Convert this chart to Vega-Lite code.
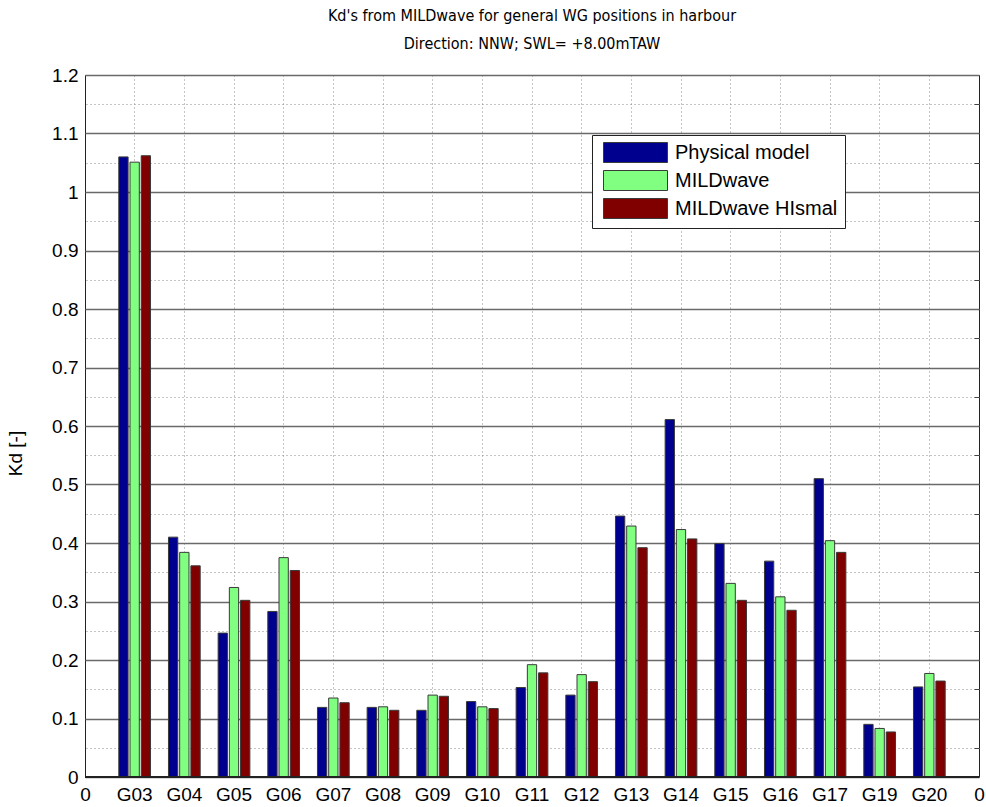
{
  "$schema": "https://vega.github.io/schema/vega-lite/v6.json",
  "width": 894,
  "height": 702,
  "autosize": {"type": "none"},
  "padding": {"left": 85, "top": 75, "right": 7, "bottom": 30},
  "background": "white",
  "title": {
    "text": ["Kd's from MILDwave for general WG positions in harbour", "Direction: NNW; SWL= +8.00mTAW"],
    "anchor": "middle",
    "frame": "group",
    "font": "Liberation Sans Narrow, DejaVu Sans Condensed, Liberation Sans, sans-serif",
    "fontSize": 16,
    "fontWeight": "normal",
    "color": "#000",
    "lineHeight": 28,
    "offset": 14
  },
  "config": {
    "view": {"stroke": "#222", "strokeWidth": 1},
    "axis": {
      "labelFont": "Liberation Sans",
      "labelFontSize": 19,
      "labelColor": "#000",
      "titleFont": "Liberation Sans",
      "titleFontSize": 19,
      "titleFontWeight": "normal",
      "titleColor": "#000",
      "domain": false
    },
    "legend": {
      "labelFont": "Liberation Sans",
      "labelFontSize": 20,
      "labelColor": "#000"
    }
  },
  "data": {
    "values": [
      {"gauge": "G03", "model": "Physical model", "kd": 1.060},
      {"gauge": "G03", "model": "MILDwave", "kd": 1.051},
      {"gauge": "G03", "model": "MILDwave HIsmal", "kd": 1.062},
      {"gauge": "G04", "model": "Physical model", "kd": 0.410},
      {"gauge": "G04", "model": "MILDwave", "kd": 0.384},
      {"gauge": "G04", "model": "MILDwave HIsmal", "kd": 0.361},
      {"gauge": "G05", "model": "Physical model", "kd": 0.246},
      {"gauge": "G05", "model": "MILDwave", "kd": 0.324},
      {"gauge": "G05", "model": "MILDwave HIsmal", "kd": 0.302},
      {"gauge": "G06", "model": "Physical model", "kd": 0.283},
      {"gauge": "G06", "model": "MILDwave", "kd": 0.375},
      {"gauge": "G06", "model": "MILDwave HIsmal", "kd": 0.353},
      {"gauge": "G07", "model": "Physical model", "kd": 0.119},
      {"gauge": "G07", "model": "MILDwave", "kd": 0.135},
      {"gauge": "G07", "model": "MILDwave HIsmal", "kd": 0.127},
      {"gauge": "G08", "model": "Physical model", "kd": 0.119},
      {"gauge": "G08", "model": "MILDwave", "kd": 0.120},
      {"gauge": "G08", "model": "MILDwave HIsmal", "kd": 0.114},
      {"gauge": "G09", "model": "Physical model", "kd": 0.114},
      {"gauge": "G09", "model": "MILDwave", "kd": 0.140},
      {"gauge": "G09", "model": "MILDwave HIsmal", "kd": 0.138},
      {"gauge": "G10", "model": "Physical model", "kd": 0.129},
      {"gauge": "G10", "model": "MILDwave", "kd": 0.120},
      {"gauge": "G10", "model": "MILDwave HIsmal", "kd": 0.117},
      {"gauge": "G11", "model": "Physical model", "kd": 0.153},
      {"gauge": "G11", "model": "MILDwave", "kd": 0.192},
      {"gauge": "G11", "model": "MILDwave HIsmal", "kd": 0.178},
      {"gauge": "G12", "model": "Physical model", "kd": 0.140},
      {"gauge": "G12", "model": "MILDwave", "kd": 0.175},
      {"gauge": "G12", "model": "MILDwave HIsmal", "kd": 0.163},
      {"gauge": "G13", "model": "Physical model", "kd": 0.446},
      {"gauge": "G13", "model": "MILDwave", "kd": 0.429},
      {"gauge": "G13", "model": "MILDwave HIsmal", "kd": 0.392},
      {"gauge": "G14", "model": "Physical model", "kd": 0.611},
      {"gauge": "G14", "model": "MILDwave", "kd": 0.423},
      {"gauge": "G14", "model": "MILDwave HIsmal", "kd": 0.407},
      {"gauge": "G15", "model": "Physical model", "kd": 0.399},
      {"gauge": "G15", "model": "MILDwave", "kd": 0.331},
      {"gauge": "G15", "model": "MILDwave HIsmal", "kd": 0.302},
      {"gauge": "G16", "model": "Physical model", "kd": 0.369},
      {"gauge": "G16", "model": "MILDwave", "kd": 0.308},
      {"gauge": "G16", "model": "MILDwave HIsmal", "kd": 0.285},
      {"gauge": "G17", "model": "Physical model", "kd": 0.510},
      {"gauge": "G17", "model": "MILDwave", "kd": 0.404},
      {"gauge": "G17", "model": "MILDwave HIsmal", "kd": 0.384},
      {"gauge": "G19", "model": "Physical model", "kd": 0.090},
      {"gauge": "G19", "model": "MILDwave", "kd": 0.083},
      {"gauge": "G19", "model": "MILDwave HIsmal", "kd": 0.077},
      {"gauge": "G20", "model": "Physical model", "kd": 0.154},
      {"gauge": "G20", "model": "MILDwave", "kd": 0.177},
      {"gauge": "G20", "model": "MILDwave HIsmal", "kd": 0.164}
    ]
  },
  "layer": [
    {
      "mark": {"type": "bar", "stroke": "#3a3a3a", "strokeWidth": 1},
      "encoding": {
        "x": {
          "field": "gauge",
          "type": "nominal",
          "sort": null,
          "scale": {"paddingInner": 0, "paddingOuter": 0.5},
          "axis": {
            "title": null,
            "orient": "bottom",
            "labelAngle": 0,
            "bandPosition": 0.5,
            "ticks": false,
            "labelPadding": 8,
            "grid": true,
            "gridColor": "#8a8a8a",
            "gridDash": [1, 3],
            "gridWidth": 1
          }
        },
        "xOffset": {
          "field": "model",
          "type": "nominal",
          "sort": ["Physical model", "MILDwave", "MILDwave HIsmal"],
          "scale": {"paddingInner": 0.17, "paddingOuter": 0.8}
        },
        "y": {
          "field": "kd",
          "type": "quantitative",
          "scale": {"domain": [0, 1.2], "nice": false},
          "axis": {
            "title": "Kd [-]",
            "orient": "left",
            "values": [0, 0.1, 0.2, 0.3, 0.4, 0.5, 0.6, 0.7, 0.8, 0.9, 1, 1.1, 1.2],
            "format": "~g",
            "ticks": false,
            "labelPadding": 7,
            "titlePadding": 26,
            "titleY": 378,
            "titleAlign": "center",
            "titleBaseline": "bottom",
            "grid": true,
            "gridColor": "#6a6a6a",
            "gridWidth": 1.5
          }
        },
        "color": {
          "field": "model",
          "type": "nominal",
          "sort": ["Physical model", "MILDwave", "MILDwave HIsmal"],
          "scale": {
            "domain": ["Physical model", "MILDwave", "MILDwave HIsmal"],
            "range": ["#00008f", "#80ff80", "#800000"]
          },
          "legend": {
            "title": null,
            "orient": "none",
            "legendX": 507,
            "legendY": 60,
            "strokeColor": "#222",
            "fillColor": "white",
            "padding": 7,
            "symbolType": "M-3.2,-1H3.2V1H-3.2Z",
            "symbolSize": 400,
            "symbolOffset": 26,
            "symbolStrokeColor": "#3a3a3a",
            "symbolStrokeWidth": 1,
            "symbolOpacity": 1,
            "labelOffset": 29,
            "labelLimit": 300,
            "rowPadding": 3
          }
        }
      }
    },
    {
      "mark": {"type": "rule", "color": "#222", "strokeWidth": 1},
      "encoding": {
        "x": {
          "datum": 0,
          "type": "quantitative",
          "scale": {"domain": [0, 18], "nice": false, "zero": false},
          "axis": {
            "title": null,
            "orient": "bottom",
            "values": [0, 18],
            "labelExpr": "'0'",
            "ticks": false,
            "grid": false,
            "labelPadding": 8,
            "labelFlush": false
          }
        },
        "x2": {"datum": 18},
        "y": {
          "datum": 0,
          "type": "quantitative",
          "axis": {
            "title": null,
            "orient": "right",
            "values": [0.05, 0.15, 0.25, 0.35, 0.45, 0.55, 0.65, 0.75, 0.85, 0.95, 1.05, 1.15],
            "labels": false,
            "ticks": true,
            "tickSize": -5,
            "tickColor": "#444",
            "grid": true,
            "gridColor": "#8a8a8a",
            "gridDash": [1, 3],
            "gridWidth": 1
          }
        }
      }
    }
  ],
  "resolve": {
    "scale": {"x": "independent"},
    "axis": {"x": "independent", "y": "independent"}
  }
}
